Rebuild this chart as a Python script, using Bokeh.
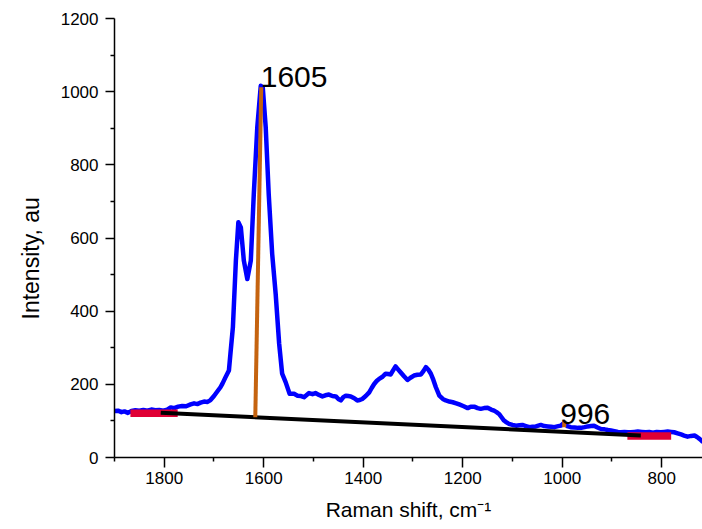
from bokeh.plotting import figure
from bokeh.models import Range1d, FixedTicker, Title
from bokeh.core.properties import value
from bokeh.embed import file_html
from bokeh.resources import INLINE

# ---- data ----
raman_shift = [1900, 1893, 1886, 1880, 1873, 1866, 1858, 1850, 1842, 1834, 1826, 1818, 1810, 1802,
               1794, 1787, 1780, 1772, 1764, 1756, 1747, 1740, 1733, 1727, 1720, 1713, 1707, 1700,
               1693, 1687, 1683, 1677, 1670, 1667, 1662, 1656, 1651, 1646, 1640, 1633, 1626, 1620,
               1613, 1606, 1602, 1596, 1590, 1583, 1576, 1569, 1563, 1556, 1548, 1539, 1532, 1525,
               1519, 1509, 1502, 1496, 1489, 1482, 1476, 1469, 1462, 1455, 1450, 1445, 1440, 1435,
               1430, 1425, 1418, 1412, 1407, 1402, 1395, 1388, 1383, 1378, 1373, 1368, 1362, 1355,
               1350, 1345, 1340, 1335, 1330, 1325, 1318, 1311, 1305, 1298, 1291, 1284, 1279, 1274,
               1269, 1264, 1259, 1254, 1247, 1240, 1234, 1227, 1220, 1213, 1207, 1198, 1190, 1184,
               1177, 1170, 1164, 1157, 1150, 1143, 1137, 1132, 1127, 1122, 1117, 1112, 1107, 1100,
               1093, 1086, 1080, 1073, 1066, 1060, 1053, 1048, 1043, 1036, 1029, 1022, 1016, 1010,
               1003, 996, 990, 983, 975, 968, 962, 955, 949, 942, 936, 929, 922, 915, 908, 902,
               895, 888, 882, 875, 868, 862, 855, 848, 840, 832, 825, 818, 810, 802, 795, 788,
               781, 775, 768, 761, 755, 748, 741, 734, 729, 724, 720, 717]
intensity = [127, 128, 124, 126, 122, 127, 129, 128, 130, 128, 131, 129, 130, 128,
             131, 137, 135, 139, 141, 140, 145, 148, 146, 150, 153, 152, 157, 168,
             181, 192, 202, 219, 238, 283, 356, 538, 643, 629, 538, 488, 538, 720,
             902, 1016, 1012, 902, 720, 556, 447, 311, 229, 206, 174, 174, 169, 168,
             165, 176, 173, 176, 171, 167, 170, 172, 168, 167, 160, 156, 165, 169,
             168, 167, 162, 156, 157, 160, 168, 178, 190, 201, 209, 215, 220, 229,
             228, 227, 238, 249, 241, 233, 222, 212, 218, 224, 226, 227, 236, 247,
             240, 229, 212, 192, 169, 160, 156, 153, 151, 148, 145, 140, 135, 139,
             139, 135, 133, 135, 136, 131, 128, 124, 119, 110, 101, 96, 92, 89,
             87, 88, 89, 86, 83, 84, 85, 87, 89, 86, 85, 84, 83, 85,
             87, 95, 86, 83, 82, 81, 81, 83, 85, 86, 87, 82, 78, 77, 75, 74,
             72, 70, 69, 70, 69, 69, 70, 71, 70, 69, 70, 68, 70, 69, 70, 71,
             70, 69, 66, 63, 60, 57, 59, 60, 56, 51, 46, 42]

baseline_x = [1807, 842]
baseline_y = [122, 60]
region_left_x = [1868, 1773]
region_left_y = [121, 121]
region_right_x = [869, 781]
region_right_y = [59, 59]
peak1605_x = [1617, 1605]
peak1605_y = [110, 1012]
peak996_x = [996, 996]
peak996_y = [83, 101]
peak_labels = ["1605", "996"]
peak_label_x = [1606, 1004]
peak_label_y = [1041, 119]

x_major = [800, 1000, 1200, 1400, 1600, 1800]
x_minor = [900, 1100, 1300, 1500, 1700, 1900]
y_major = [0, 200, 400, 600, 800, 1000, 1200]
y_minor = [100, 300, 500, 700, 900, 1100]

x_title = "Raman shift, cm\u207b\u00b9"
y_title = "Intensity, au"

FONT = "Liberation Sans"

p = figure(width=702, height=529,
           x_range=Range1d(1900, 718), y_range=Range1d(0, 1200),
           output_backend="svg", toolbar_location=None,
           min_border_left=114, min_border_right=0,
           min_border_top=18, min_border_bottom=72)
p.outline_line_color = None
p.xgrid.visible = False
p.ygrid.visible = False
p.background_fill_color = "white"
p.border_fill_color = "white"

p.xaxis.ticker = FixedTicker(ticks=x_major, minor_ticks=x_minor)
p.yaxis.ticker = FixedTicker(ticks=y_major, minor_ticks=y_minor)

for ax in (p.xaxis, p.yaxis):
    ax.axis_line_color = "black"
    ax.axis_line_width = 1.5
    ax.major_tick_line_color = "black"
    ax.major_tick_line_width = 1.5
    ax.minor_tick_line_color = "black"
    ax.minor_tick_line_width = 1.5
    ax.major_tick_in = 0
    ax.minor_tick_in = 0
    ax.minor_tick_out = 4
    ax.major_label_text_font = FONT
    ax.major_label_text_font_size = "17px"
    ax.major_label_text_color = "black"
    ax.axis_label_text_font = FONT
    ax.axis_label_text_font_size = "21px"
    ax.axis_label_text_font_style = "normal"
    ax.axis_label_text_color = "black"

p.xaxis.major_tick_out = 10
p.xaxis.major_label_standoff = 4
p.yaxis.major_tick_out = 9
p.yaxis.major_label_standoff = 7

p.xaxis.axis_label = x_title
p.xaxis.axis_label_standoff = 11

ytitle = Title(text=y_title, align="left", offset=138, standoff=28,
               text_font=FONT, text_font_size="23px", text_font_style="normal",
               text_color="black")
p.add_layout(ytitle, "left")

p.line(raman_shift, intensity, line_color="#0000FF", line_width=4.5, line_join="round")
p.line(region_left_x, region_left_y, line_color="#E00034", line_width=7.5)
p.line(region_right_x, region_right_y, line_color="#E00034", line_width=7.5)
p.line(baseline_x, baseline_y, line_color="black", line_width=4)
p.line(peak1605_x, peak1605_y, line_color="#C5630F", line_width=4)
p.line(peak996_x, peak996_y, line_color="#C5630F", line_width=4)
p.text(x=peak_label_x, y=peak_label_y, text=peak_labels,
       text_font=value(FONT), text_font_size="30px", text_color="black",
       text_align="left", text_baseline="alphabetic")

open("out.html", "w").write(file_html(p, INLINE))
